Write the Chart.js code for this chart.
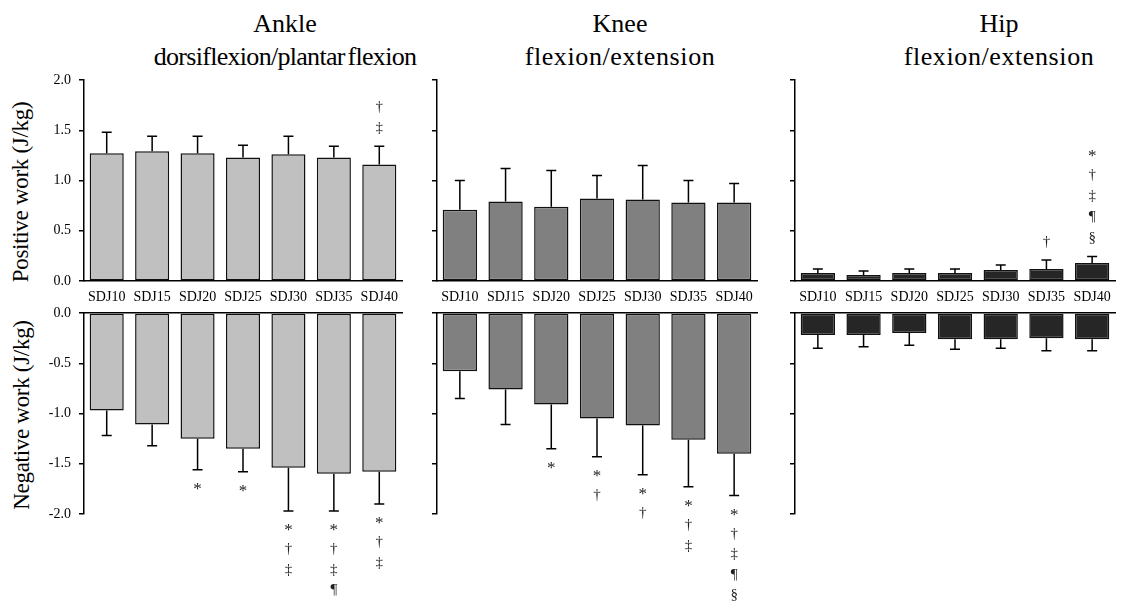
<!DOCTYPE html>
<html>
<head>
<meta charset="utf-8">
<script src="https://cdn.jsdelivr.net/npm/chart.js@4.4.0/dist/chart.umd.min.js"></script>
<style>
  html, body { margin: 0; padding: 0; background: #fff; }
  #wrap { position: relative; width: 1126px; height: 607px; overflow: hidden;
          font-family: 'Liberation Serif', 'Times New Roman', serif; color: #000; }
  #wrap canvas { position: absolute; left: 0; top: 0; }
  .title { position: absolute; top: 7px; width: 400px; text-align: center;
           font-size: 26px; line-height: 33px; white-space: nowrap; }
  .ytitle { position: absolute; font-size: 23px; white-space: nowrap; letter-spacing: -0.3px;
            transform: translate(-50%, -50%) rotate(-90deg); }
</style>
</head>
<body>
<div id="wrap">
  <div class="title" style="left:85px">Ankle<br><span style="letter-spacing:-0.7px; word-spacing:-3px">dorsiflexion/plantar flexion</span></div>
  <div class="title" style="left:420px">Knee<br><span style="letter-spacing:0.6px">flexion/extension</span></div>
  <div class="title" style="left:799px">Hip<br><span style="letter-spacing:0.6px">flexion/extension</span></div>
  <div class="ytitle" style="left:21px; top:192px">Positive work (J/kg)</div>
  <div class="ytitle" style="left:22px; top:415px">Negative work (J/kg)</div>
  <canvas id="ankPos" width="1126" height="607"></canvas>
  <canvas id="ankNeg" width="1126" height="607"></canvas>
  <canvas id="knePos" width="1126" height="607"></canvas>
  <canvas id="kneNeg" width="1126" height="607"></canvas>
  <canvas id="hipPos" width="1126" height="607"></canvas>
  <canvas id="hipNeg" width="1126" height="607"></canvas>
</div>
<script>
// data (mean and SD, J/kg)
const categories = ['SDJ10', 'SDJ15', 'SDJ20', 'SDJ25', 'SDJ30', 'SDJ35', 'SDJ40'];

const anklePosMean = [1.27, 1.29, 1.27, 1.23, 1.26, 1.23, 1.16];
const anklePosSD   = [0.21, 0.15, 0.17, 0.12, 0.18, 0.11, 0.18];
const ankleNegMean = [-0.97, -1.11, -1.25, -1.35, -1.54, -1.60, -1.58];
const ankleNegSD   = [0.25, 0.21, 0.31, 0.23, 0.43, 0.37, 0.32];

const kneePosMean = [0.71, 0.79, 0.74, 0.82, 0.81, 0.78, 0.78];
const kneePosSD   = [0.29, 0.33, 0.36, 0.23, 0.34, 0.22, 0.19];
const kneeNegMean = [-0.58, -0.76, -0.91, -1.05, -1.12, -1.26, -1.40];
const kneeNegSD   = [0.27, 0.35, 0.44, 0.38, 0.49, 0.47, 0.415];

const hipPosMean = [0.08, 0.06, 0.08, 0.08, 0.11, 0.12, 0.18];
const hipPosSD   = [0.04, 0.04, 0.04, 0.04, 0.05, 0.09, 0.065];
const hipNegMean = [-0.22, -0.22, -0.20, -0.26, -0.26, -0.25, -0.26];
const hipNegSD   = [0.13, 0.115, 0.12, 0.10, 0.09, 0.125, 0.115];

// significance symbols per bar
const anklePosMarks = [[], [], [], [], [], [], ['†', '‡']];
const ankleNegMarks = [[], [], ['*'], ['*'], ['*', '†', '‡'], ['*', '†', '‡', '¶'], ['*', '†', '‡']];
const kneePosMarks  = [[], [], [], [], [], [], []];
const kneeNegMarks  = [[], [], ['*'], ['*', '†'], ['*', '†'], ['*', '†', '‡'], ['*', '†', '‡', '¶', '§']];
const hipPosMarks   = [[], [], [], [], [], ['†'], ['*', '†', '‡', '¶', '§']];
const hipNegMarks   = [[], [], [], [], [], [], []];

const posRange = [0, 2];
const negRange = [-2, 0];
const tickStep = 0.5;

// layout of the six panels (plot area pixels)
const W = 1126, H = 607;
const cols = { ankle: [84, 402], knee: [437, 757], hip: [795, 1115] };
const rows = { pos: [80, 281], neg: [313, 514] };
const Y_W = 50, X_H = 30;
const FONT = 'Liberation Serif';

const errorBars = {
  id: 'errorBars',
  afterDatasetsDraw(chart, args, opts) {
    const { ctx } = chart;
    const y = chart.scales.y;
    const meta = chart.getDatasetMeta(0);
    ctx.save();
    ctx.strokeStyle = '#000';
    ctx.lineWidth = 1.5;
    ctx.fillStyle = '#222';
    ctx.textAlign = 'center';
    ctx.textBaseline = 'middle';
    meta.data.forEach((bar, i) => {
      const v = opts.mean[i];
      const up = v >= 0;
      const end = y.getPixelForValue(up ? v + opts.sd[i] : v - opts.sd[i]);
      ctx.beginPath();
      ctx.moveTo(bar.x, bar.y);
      ctx.lineTo(bar.x, end);
      ctx.moveTo(bar.x - 5, end);
      ctx.lineTo(bar.x + 5, end);
      ctx.stroke();
      const m = opts.marks[i];
      m.forEach((s, k) => {
        const off = up ? -(18 + (m.length - 1 - k) * 21) : (18 + k * 20.5);
        ctx.font = (s === '*' ? '17px "' : '15px "') + FONT + '"';
        ctx.fillText(s, bar.x, end + off + (s === '*' ? 2 : 0));
      });
    });
    ctx.restore();
  }
};

function panel(id, mean, sd, marks, color, col, row) {
  const [l, r] = cols[col];
  const [t, b] = rows[row];
  const isPos = row === 'pos';
  const range = isPos ? posRange : negRange;
  const showY = col === 'ankle';
  const xH = isPos ? X_H : 0;

  new Chart(document.getElementById(id), {
    type: 'bar',
    data: {
      labels: categories,
      datasets: [{
        data: mean,
        backgroundColor: color,
        borderColor: '#111',
        borderWidth: 1.5,
        borderSkipped: false,
        barPercentage: 0.75,
        categoryPercentage: 1
      }]
    },
    options: {
      responsive: false,
      animation: false,
      layout: {
        padding: { left: l - Y_W, right: W - r, top: t, bottom: H - b - xH }
      },
      plugins: {
        legend: { display: false },
        tooltip: { enabled: false },
        errorBars: { mean: mean, sd: sd, marks: marks }
      },
      scales: {
        x: {
          position: isPos ? 'bottom' : 'top',
          afterFit: s => { s.height = xH; },
          grid: { display: false, drawTicks: false },
          border: { display: true, color: '#000', width: 1.5 },
          ticks: {
            display: isPos,
            color: '#000',
            padding: 8,
            maxRotation: 0,
            autoSkip: false,
            font: { family: FONT, size: 14 }
          }
        },
        y: {
          min: range[0],
          max: range[1],
          afterFit: s => { s.width = Y_W; },
          grid: { display: true, drawOnChartArea: false, drawTicks: true, tickLength: 5, color: '#000', lineWidth: 1.5 },
          border: { display: true, color: '#000', width: 1.5 },
          ticks: {
            stepSize: tickStep,
            color: '#000',
            padding: 8,
            font: { family: FONT, size: 14 },
            callback: v => showY ? Number(v).toFixed(1) : ''
          }
        }
      }
    },
    plugins: [errorBars]
  });
}

panel('ankPos', anklePosMean, anklePosSD, anklePosMarks, '#c0c0c0', 'ankle', 'pos');
panel('ankNeg', ankleNegMean, ankleNegSD, ankleNegMarks, '#c0c0c0', 'ankle', 'neg');
panel('knePos', kneePosMean, kneePosSD, kneePosMarks, '#808080', 'knee', 'pos');
panel('kneNeg', kneeNegMean, kneeNegSD, kneeNegMarks, '#808080', 'knee', 'neg');
panel('hipPos', hipPosMean, hipPosSD, hipPosMarks, '#262626', 'hip', 'pos');
panel('hipNeg', hipNegMean, hipNegSD, hipNegMarks, '#262626', 'hip', 'neg');
</script>
</body>
</html>
